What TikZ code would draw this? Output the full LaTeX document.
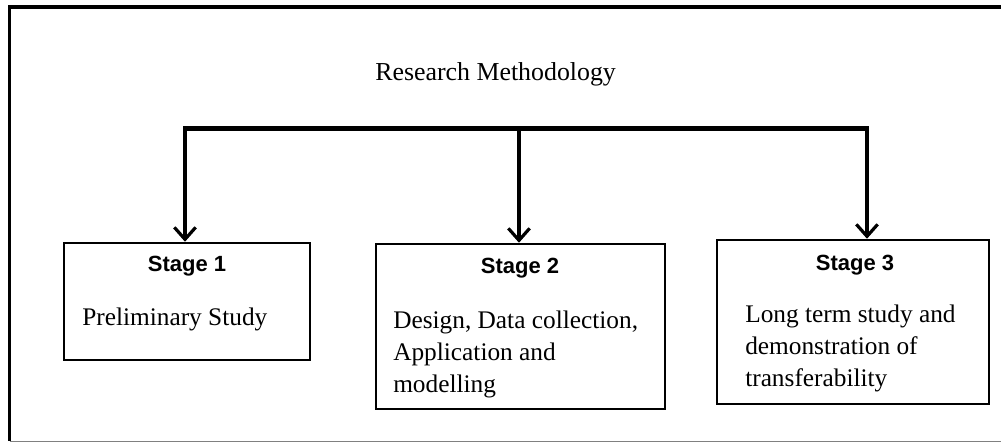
\documentclass[tikz,border=0pt]{standalone}
\usepackage{fontspec}
\setmainfont{Liberation Serif}
\newfontfamily\hdfont{Liberation Sans}
\usetikzlibrary{arrows.meta}
\begin{document}
\begin{tikzpicture}[x=0.75pt,y=-0.75pt,
  box/.style={draw, line width=1.9pt, inner sep=0pt, rectangle},
  body/.style={font=\fontsize{19}{24}\selectfont, align=left, inner sep=0pt, anchor=base west},
  head/.style={font=\hdfont\bfseries\fontsize{16.5}{20}\selectfont, inner sep=0pt, anchor=base},
  barline/.style={line width=3.75pt},
  arr/.style={line width=2.4pt, -{Straight Barb[length=9pt,width=16pt]}},
  framel/.style={line width=2.6pt}]
\useasboundingbox (0,0) rectangle (1001,443);
% frame
\draw[framel] (1001,7) -- (9.5,7) -- (9.5,441);
\draw[gray, line width=0.9pt] (9.5,441.5) -- (1001,441.5);
% title
\node[body, font=\fontsize{19.4}{24}\selectfont] (title) at (375,80) {Research Methodology};
% boxes
\node[box, minimum width=246*0.75pt, minimum height=117*0.75pt] (b1) at (187,301.5) {};
\node[box, minimum width=289*0.75pt, minimum height=165*0.75pt] (b2) at (520.5,326.5) {};
\node[box, minimum width=272*0.75pt, minimum height=164*0.75pt] (b3) at (853,322) {};
% headers
\node[head] (h1) at (187,271) {Stage 1};
\node[head] (h2) at (520,273) {Stage 2};
\node[head] (h3) at (855,270) {Stage 3};
% bodies
\node[body] (t1) at (82,325) {Preliminary Study};
\node[body] (t2) at (393,392) {Design, Data collection,\\Application and\\modelling};
\node[body] (t3) at (745,386) {Long term study and\\demonstration of\\transferability};
% connectors
\coordinate (c1) at (185,128.5);
\coordinate (c2) at (519,128.5);
\coordinate (c3) at (867,128.5);
\draw[barline] ([xshift=-1.5pt]c1) -- ([xshift=1.5pt]c3);
\draw[arr] (c1) -- (c1 |- b1.north);
\draw[arr] (c2) -- (c2 |- b2.north);
\draw[arr] (c3) -- (c3 |- b3.north);
\end{tikzpicture}
\end{document}
